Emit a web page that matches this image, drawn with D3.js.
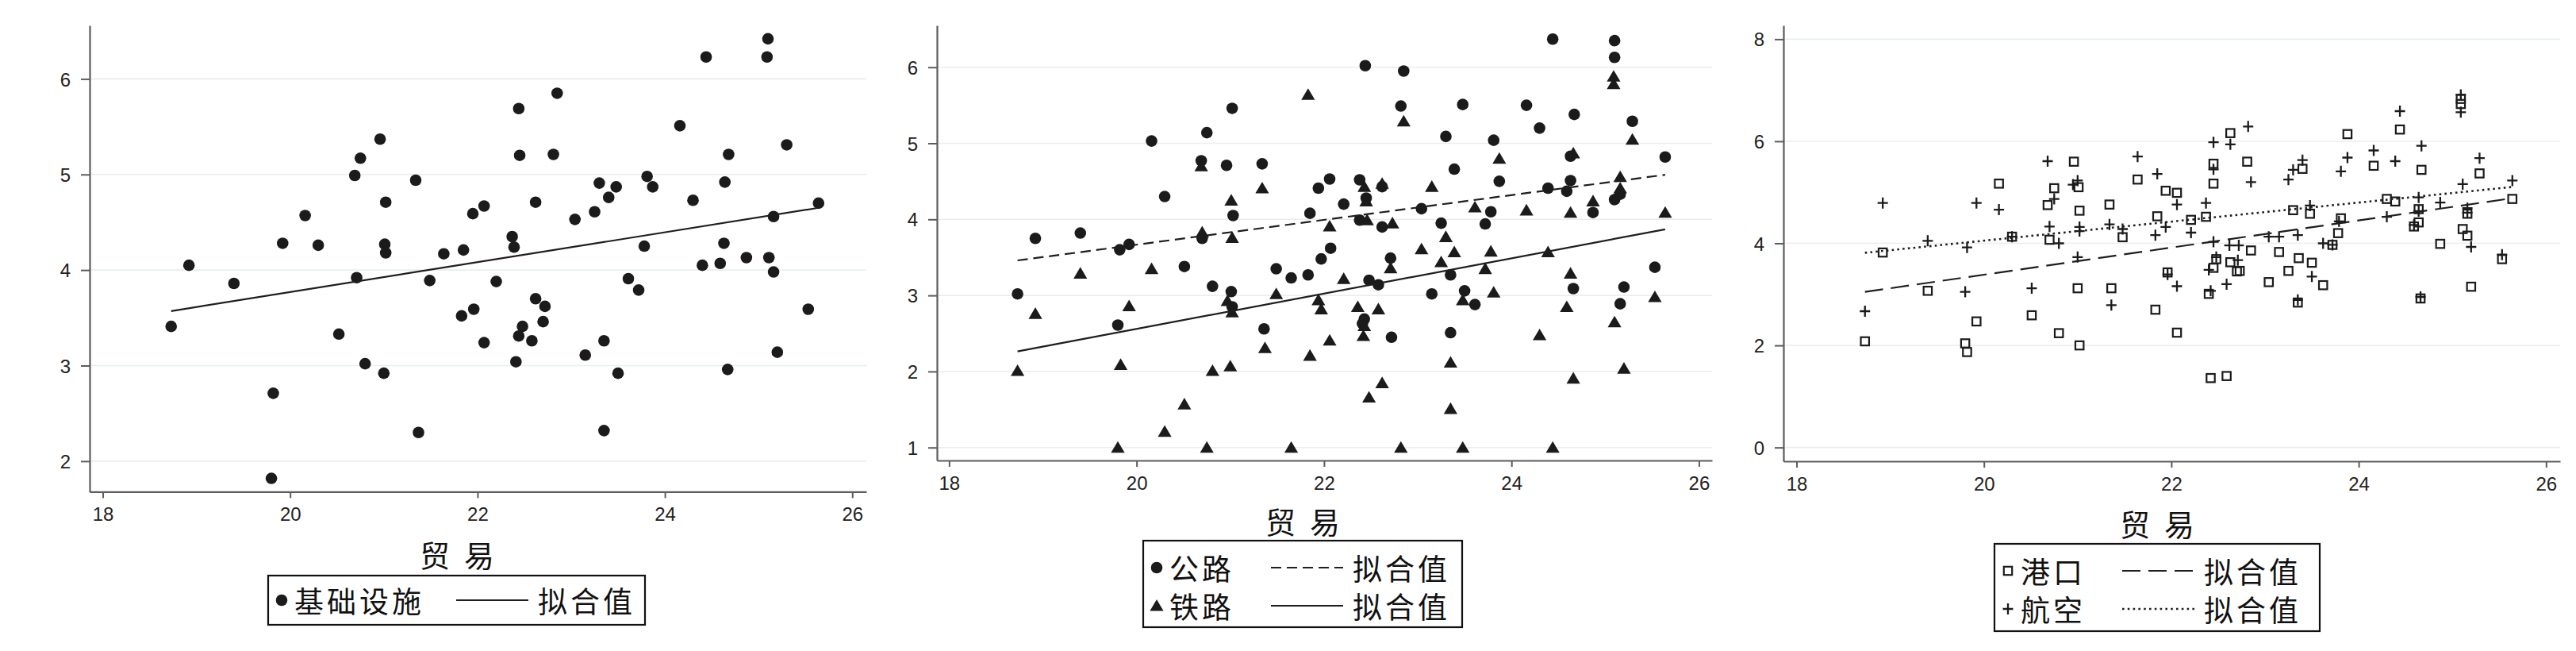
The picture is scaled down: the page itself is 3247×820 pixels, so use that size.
<!DOCTYPE html>
<html>
<head>
<meta charset="utf-8">
<script src="https://cdn.jsdelivr.net/npm/d3@7/dist/d3.min.js"></script>
<style>
body{margin:0;background:#fff;}
svg{display:block;}
.tick text{font-family:"Liberation Sans",Arial,sans-serif;font-size:24px;fill:#222;}
.cjk{font-family:"Noto Sans CJK SC","Noto Sans CJK JP",sans-serif;fill:#111;}
</style>
</head>
<body>
<div id="chart"></div>
<script>
//DATA - x is trade (贸易), one array pair per series
var xTicks = [18, 20, 22, 24, 26];

var infraTrade = [18.73,18.92,19.40,19.80,19.82,19.92,20.16,20.30,20.52,20.69,20.71,20.75,20.80,20.96,21.00,21.01,21.02,21.02,21.34,21.37,21.49,21.64,21.83,21.85,21.95,21.96,22.07,22.07,22.20,22.44,22.45,22.37,22.39,22.41,22.48,22.44,22.58,22.62,22.62,22.72,22.70,22.81,22.85,23.04,23.15,23.25,23.30,23.35,23.35,23.40,23.48,23.50,23.61,23.72,23.78,23.81,23.87,24.16,24.30,24.40,24.44,24.59,24.63,24.64,24.67,24.68,24.87,25.09,25.10,25.11,25.16,25.16,25.20,25.30,25.53,25.64];
var infraVal = [3.41,4.05,3.86,1.82,2.71,4.28,4.57,4.26,3.33,4.99,3.92,5.17,3.02,5.37,2.92,4.27,4.71,4.18,4.94,2.30,3.89,4.17,3.52,4.21,4.59,3.59,4.67,3.24,3.88,5.69,5.20,4.35,4.24,3.04,3.41,3.31,3.26,4.71,3.70,3.62,3.46,5.21,5.85,4.53,3.11,4.61,4.91,3.26,2.32,4.76,4.87,2.92,3.91,3.79,4.25,4.98,4.87,5.51,4.73,4.05,6.23,4.07,4.28,4.92,2.96,5.21,4.13,6.23,6.42,4.13,4.56,3.98,3.14,5.31,3.59,4.70];

var roadTrade = [18.73,18.92,19.40,19.80,19.82,19.92,20.16,20.30,20.51,20.69,20.70,20.75,20.81,20.96,21.01,21.03,21.02,21.02,21.34,21.36,21.49,21.65,21.83,21.85,21.94,21.97,22.06,22.07,22.21,22.44,22.85,22.82,22.38,22.45,22.38,22.62,22.62,22.43,22.41,22.48,22.58,22.72,22.71,23.04,23.15,23.25,23.30,23.35,23.35,23.39,23.48,23.50,23.61,23.72,23.78,23.81,23.87,24.16,24.30,24.39,24.44,24.59,24.63,24.63,24.67,24.66,24.87,25.10,25.10,25.10,25.16,25.16,25.20,25.29,25.53,25.64];
var roadVal = [3.02,3.75,3.82,2.61,3.60,3.67,5.03,4.30,3.38,4.77,3.75,5.14,3.12,4.71,3.05,4.05,5.46,2.85,4.73,2.56,3.35,3.23,3.27,4.08,4.41,3.48,4.53,3.62,4.20,6.02,5.95,5.49,4.52,4.28,3.99,4.43,3.90,2.69,2.63,3.20,3.14,2.45,3.49,4.14,3.02,3.95,5.09,3.27,2.51,4.66,5.51,3.06,2.88,3.94,4.10,5.04,4.50,5.50,5.20,4.41,6.37,4.37,4.51,4.83,5.38,3.09,4.09,6.35,6.13,4.26,4.33,2.89,3.11,5.29,3.37,4.82];

var railTrade = [18.73,18.92,19.40,19.80,19.83,19.92,20.16,20.30,20.51,20.69,20.70,20.75,20.81,21.01,21.02,20.97,21.02,21.00,21.34,21.37,21.49,21.65,21.83,21.85,21.94,21.97,22.06,22.06,22.21,22.36,22.42,22.43,22.43,22.45,22.46,22.62,22.73,22.58,22.48,22.62,22.71,22.82,22.85,23.04,23.15,23.30,23.25,23.35,23.35,23.39,23.48,23.48,23.61,23.72,23.78,23.81,23.87,24.16,24.30,24.39,24.44,24.59,24.63,24.66,24.63,24.66,24.87,25.09,25.09,25.16,25.16,25.10,25.20,25.29,25.53,25.64];
var railVal = [2.01,2.76,3.29,1.00,2.09,2.86,3.35,1.21,1.57,4.70,3.83,1.00,2.01,4.25,3.76,2.93,2.78,2.07,4.41,2.31,3.02,1.00,5.64,2.21,2.94,2.82,3.91,2.41,3.22,2.85,2.47,2.60,4.43,4.24,3.99,4.47,3.95,2.82,1.66,1.85,3.36,1.00,5.29,3.61,4.43,3.77,3.44,2.12,1.51,3.57,2.94,1.00,4.16,3.35,3.58,3.04,4.80,4.12,2.48,3.57,1.00,2.85,4.09,4.87,3.29,1.91,4.24,5.88,5.78,4.41,4.56,2.65,2.04,5.05,2.98,4.09];

var portTrade = [18.73,18.92,19.40,19.80,19.82,19.92,20.16,20.30,20.51,20.68,20.70,20.75,20.80,20.96,21.00,21.01,21.02,21.02,21.34,21.36,21.48,21.64,21.83,21.85,21.94,21.96,22.06,22.06,22.21,22.37,22.45,22.45,22.48,22.45,22.40,22.42,22.59,22.63,22.63,22.70,22.73,22.81,22.85,23.04,23.15,23.25,23.30,23.35,23.40,23.36,23.48,23.50,23.62,23.72,23.78,23.81,23.88,24.16,24.30,24.39,24.44,24.59,24.64,24.64,24.67,24.66,24.87,25.09,25.09,25.11,25.16,25.16,25.20,25.29,25.53,25.64];
var portVal = [2.08,3.82,3.07,2.04,1.87,2.47,5.17,4.13,2.59,4.75,4.07,5.08,2.24,5.60,3.12,5.10,4.64,2.00,4.76,3.12,4.12,5.25,2.70,4.53,5.03,3.43,4.99,2.25,4.46,4.52,5.56,5.17,3.69,3.52,3.01,1.36,1.40,6.16,3.63,3.45,3.46,5.60,3.86,3.24,3.83,3.46,4.65,2.84,5.46,3.71,4.58,3.62,3.18,3.97,4.20,4.49,6.14,5.52,4.87,4.82,6.23,4.33,4.41,4.67,5.44,2.92,3.99,6.83,6.73,4.28,4.58,4.15,3.15,5.37,3.69,4.87];

var airTrade = [18.73,18.92,19.40,19.80,19.82,19.92,20.16,20.30,20.51,20.68,20.70,20.75,20.80,20.95,21.00,21.00,21.02,21.02,21.34,21.36,21.48,21.64,21.83,21.85,21.94,21.96,22.06,22.06,22.21,22.37,22.45,22.45,22.45,22.48,22.40,22.42,22.63,22.59,22.62,22.72,22.71,22.82,22.85,23.04,23.15,23.25,23.30,23.35,23.35,23.40,23.48,23.50,23.62,23.72,23.79,23.81,23.88,24.16,24.30,24.39,24.44,24.59,24.64,24.64,24.67,24.66,24.87,25.09,25.09,25.11,25.16,25.16,25.20,25.29,25.53,25.64];
var airVal = [2.67,4.79,4.05,3.05,3.92,4.79,4.66,4.13,3.12,5.61,4.33,4.87,4.00,5.15,3.73,5.23,4.32,4.24,4.37,2.79,4.28,5.70,4.16,5.36,4.32,3.39,4.76,3.16,4.21,4.79,5.98,5.45,4.03,3.73,3.48,3.07,5.94,3.20,3.96,3.96,3.67,6.29,5.20,4.13,4.13,5.25,5.44,4.16,2.89,5.63,4.74,3.35,4.00,3.97,4.43,5.41,5.68,5.82,4.52,5.61,6.59,4.36,4.90,4.63,5.91,2.95,4.80,6.91,6.57,5.16,4.69,4.60,3.93,5.67,3.78,5.23];

var xTitle = '贸易';
var fitLabel = '拟合值';

//PANEL SETUP
var panels = [
	{
		xDom: [17.86, 26.15], xRange: [113, 1092],
		yDom: [1.68, 6.56], yRange: [619.4, 32], yTicks: [2, 3, 4, 5, 6],
		title: [576, 697],
		legendBox: [338, 725, 475, 62],
		series: [
			{name: '基础设施', xs: infraTrade, ys: infraVal, marker: 'circle', dash: null, row: 0}
		]
	},
	{
		xDom: [17.87, 26.14], xRange: [1181, 2158],
		yDom: [0.83, 6.55], yRange: [580, 32], yTicks: [1, 2, 3, 4, 5, 6],
		title: [1642, 655],
		legendBox: [1441, 681, 402, 109],
		series: [
			{name: '公路', xs: roadTrade, ys: roadVal, marker: 'circle', dash: '13,7', row: 0},
			{name: '铁路', xs: railTrade, ys: railVal, marker: 'triangle', dash: null, row: 1}
		]
	},
	{
		xDom: [17.86, 26.15], xRange: [2248, 3227],
		yDom: [-0.27, 8.27], yRange: [581, 32], yTicks: [0, 2, 4, 6, 8],
		title: [2719, 658],
		legendBox: [2514, 685, 410, 110],
		series: [
			{name: '港口', xs: portTrade, ys: portVal, marker: 'square', dash: '23,10', row: 0},
			{name: '航空', xs: airTrade, ys: airVal, marker: 'plus', dash: '2.6,4.2', row: 1}
		]
	}
];

var ink = '#1b1b1b';

var svg = d3.select('#chart').append('svg')
.attr('width', 3247)
.attr('height', 820)
.attr('viewBox', '0 0 3247 820');

svg.append('rect')
.attr('width', 3247)
.attr('height', 820)
.attr('fill', '#fff');

//draws one marker shape into a selection
function drawMarker(sel, kind){
	if(kind === 'circle'){
		sel.append('circle')
		.attr('r', 7.3)
		.attr('fill', ink);
	}else if(kind === 'triangle'){
		sel.append('path')
		.attr('d', 'M0,-8L8.6,6.6L-8.6,6.6Z')
		.attr('fill', ink);
	}else if(kind === 'square'){
		sel.append('rect')
		.attr('x', -5.2)
		.attr('y', -5.2)
		.attr('width', 10.4)
		.attr('height', 10.4)
		.attr('fill', 'none')
		.attr('stroke', ink)
		.attr('stroke-width', 2.2);
	}else{
		sel.append('path')
		.attr('d', 'M-6.5,0H6.5M0,-7V7')
		.attr('fill', 'none')
		.attr('stroke', ink)
		.attr('stroke-width', 2.3);
	}
}

//least squares fit of the plotted points
function fitLine(xs, ys){
	var mx = d3.mean(xs), my = d3.mean(ys);
	var sxy = 0, sxx = 0;
	xs.forEach(function(v, i){
		sxy += (v - mx) * (ys[i] - my);
		sxx += (v - mx) * (v - mx);
	});
	var b = sxy / sxx;
	var a = my - b * mx;
	var ext = d3.extent(xs);
	return ext.map(function(v){ return [v, a + b * v]; });
}

panels.forEach(function(p){
	var x = d3.scaleLinear().domain(p.xDom).range(p.xRange);
	var y = d3.scaleLinear().domain(p.yDom).range(p.yRange);
	var g = svg.append('g');

	//gridlines
	g.append('g')
	.selectAll('line')
	.data(p.yTicks)
	.enter()
	.append('line')
	.attr('x1', p.xRange[0] + 2)
	.attr('x2', p.xRange[1])
	.attr('y1', function(d){ return y(d); })
	.attr('y2', function(d){ return y(d); })
	.attr('stroke', '#e8eeef')
	.attr('stroke-width', 1.6);

	//axes
	var xAxis = g.append('g')
	.attr('transform', 'translate(0,' + p.yRange[0] + ')')
	.call(d3.axisBottom(x).tickValues(xTicks).tickFormat(d3.format('d')).tickSize(8).tickSizeOuter(0).tickPadding(12));

	var yAxis = g.append('g')
	.attr('transform', 'translate(' + p.xRange[0] + ',0)')
	.call(d3.axisLeft(y).tickValues(p.yTicks).tickFormat(d3.format('d')).tickSize(11).tickSizeOuter(0).tickPadding(13));

	[xAxis, yAxis].forEach(function(a){
		a.select('.domain').attr('stroke', '#5c5c5c').attr('stroke-width', 2.2);
		a.selectAll('.tick line').attr('stroke', '#5c5c5c').attr('stroke-width', 2);
	});
	yAxis.selectAll('.tick text').attr('dy', '0.36em');

	//points
	p.series.forEach(function(s){
		var pts = s.xs.map(function(v, i){ return [v, s.ys[i]]; });
		g.append('g')
		.selectAll('g')
		.data(pts)
		.enter()
		.append('g')
		.attr('transform', function(d){ return 'translate(' + x(d[0]) + ',' + y(d[1]) + ')'; })
		.each(function(){ drawMarker(d3.select(this), s.marker); });
	});

	//fitted lines
	p.series.forEach(function(s){
		var f = fitLine(s.xs, s.ys);
		g.append('path')
		.attr('d', d3.line().x(function(d){ return x(d[0]); }).y(function(d){ return y(d[1]); })(f))
		.attr('fill', 'none')
		.attr('stroke', '#1e1e1e')
		.attr('stroke-width', s.dash === '2.6,4.2' ? 2.6 : 2.2)
		.attr('stroke-dasharray', s.dash);
	});

	//axis title
	g.append('text')
	.attr('class', 'cjk')
	.attr('x', p.title[0] + 9)
	.attr('y', p.title[1])
	.attr('text-anchor', 'middle')
	.attr('dominant-baseline', 'central')
	.attr('font-size', 38)
	.attr('letter-spacing', 18)
	.text(xTitle);

	//legend
	var lb = p.legendBox;
	var leg = g.append('g').attr('transform', 'translate(' + lb[0] + ',' + lb[1] + ')');
	leg.append('rect')
	.attr('width', lb[2])
	.attr('height', lb[3])
	.attr('fill', '#fff')
	.attr('stroke', '#111')
	.attr('stroke-width', 2.2);

	var single = p.series.length === 1;
	p.series.forEach(function(s){
		var cy = single ? lb[3] / 2 : 34 + s.row * 48;
		var item = leg.append('g').attr('transform', 'translate(0,' + cy + ')');
		drawMarker(item.append('g').attr('transform', 'translate(17,0)'), s.marker);
		item.append('text')
		.attr('class', 'cjk')
		.attr('x', 33)
		.attr('dominant-baseline', 'central')
		.attr('font-size', 37)
		.attr('letter-spacing', 4)
		.text(s.name);
		var lx = single ? [237, 328] : [161, 252];
		item.append('line')
		.attr('x1', lx[0])
		.attr('x2', lx[1])
		.attr('stroke', '#1e1e1e')
		.attr('stroke-width', s.dash === '2.6,4.2' ? 2.6 : 2.2)
		.attr('stroke-dasharray', s.dash);
		item.append('text')
		.attr('class', 'cjk')
		.attr('x', lx[1] + 12)
		.attr('dominant-baseline', 'central')
		.attr('font-size', 37)
		.attr('letter-spacing', 4)
		.text(fitLabel);
	});
});
</script>
</body>
</html>
